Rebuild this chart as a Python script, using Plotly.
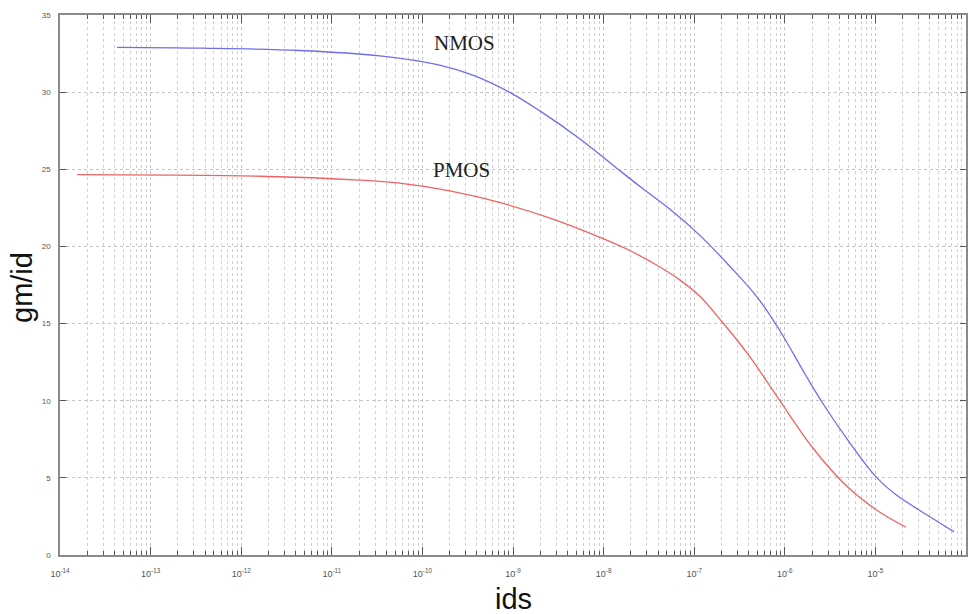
import numpy as np
import plotly.graph_objects as go

# Data
nmos_ids = [4.25e-14, 3.5e-13, 4.4e-12, 3.4e-11, 1.55e-10, 3.6e-10, 9.1e-10, 1.96e-9,
            5.4e-9, 1.25e-8, 2.5e-8, 5.7e-8, 1.14e-7, 2.44e-7, 4.97e-7, 8.7e-7,
            1.72e-6, 2.58e-6, 4.75e-6, 1.02e-5, 1.69e-5, 4.2e-5, 7.4e-5]
nmos_gmid = [32.9, 32.85, 32.7, 32.35, 31.75, 31.1, 30.0, 28.8,
             27.0, 25.3, 23.9, 22.3, 20.75, 18.75, 16.7, 14.6,
             11.6, 9.9, 7.6, 5.05, 3.9, 2.4, 1.5]

pmos_ids = [1.54e-14, 1.6e-12, 2.03e-11, 5.6e-11, 2.0e-10, 7.1e-10, 2.52e-9, 9.0e-9,
            1.92e-8, 4.1e-8, 6.85e-8, 1.14e-7, 2.04e-7, 4.05e-7, 8.7e-7, 2.0e-6,
            4.75e-6, 1.1e-5, 2.18e-5]
pmos_gmid = [24.65, 24.55, 24.3, 24.1, 23.6, 22.85, 21.85, 20.6,
             19.75, 18.7, 17.85, 16.8, 15.1, 12.9, 10.05, 7.0,
             4.5, 2.8, 1.8]

x_exponents = list(range(-14, -3))
x_tickvals = [10.0 ** e for e in x_exponents]
x_ticktext = [f"10<sup>{e}</sup>" for e in x_exponents]
x_minor = [k * 10.0 ** e for e in x_exponents[:-1] for k in range(2, 10)]
y_tickvals = [0, 5, 10, 15, 20, 25, 30, 35]

labels = ["NMOS", "PMOS"]
label_pos = [(10 ** -9.535, 33.2), (10 ** -9.57, 24.95)]

fig = go.Figure()
fig.add_trace(go.Scatter(x=nmos_ids, y=nmos_gmid, mode="lines", name="NMOS",
                         line=dict(color="#6e6eea", width=1.3, shape="spline", smoothing=1.0)))
fig.add_trace(go.Scatter(x=pmos_ids, y=pmos_gmid, mode="lines", name="PMOS",
                         line=dict(color="#ee6464", width=1.3, shape="spline", smoothing=1.0)))

for txt, (lx, ly) in zip(labels, label_pos):
    fig.add_annotation(x=np.log10(lx), y=ly, xref="x", yref="y", text=txt, showarrow=False,
                       font=dict(family="Liberation Serif, Times New Roman, serif", size=21, color="#222222"))

fig.add_annotation(x=0.5, y=-0.0, xref="paper", yref="paper", yshift=-44, text="ids",
                   showarrow=False, yanchor="middle",
                   font=dict(family="Liberation Sans, Arial, sans-serif", size=29, color="#111111"))
fig.add_annotation(x=0, y=(555 - 288) / 540, xref="paper", yref="paper", xshift=-38, text="gm/id",
                   showarrow=False, textangle=-90, xanchor="center",
                   font=dict(family="Liberation Sans, Arial, sans-serif", size=29, color="#111111"))

axis_common = dict(showline=True, linecolor="#8a8a8a", linewidth=1.5, mirror="ticks",
                   ticks="inside", tickcolor="#555555",
                   gridcolor="#c4c4c4", griddash="dot", gridwidth=1, zeroline=False)

fig.update_xaxes(type="log", range=[-14, -4], tickmode="array", tickvals=x_tickvals,
                 ticktext=x_ticktext, ticklen=8, tickwidth=1, showgrid=True,
                 ticklabelstandoff=9,
                 tickfont=dict(family="Liberation Sans, Arial, sans-serif", size=9, color="#555555"),
                 minor=dict(tickvals=x_minor, ticks="inside", ticklen=4, tickcolor="#555555",
                            showgrid=True, gridcolor="#d0d0d0", griddash="dot", gridwidth=1),
                 **axis_common)
fig.update_yaxes(range=[0, 35], tickmode="array", tickvals=y_tickvals, ticklen=6,
                 showgrid=True, ticklabelstandoff=6,
                 tickfont=dict(family="Liberation Sans, Arial, sans-serif", size=8, color="#555555"),
                 **axis_common)

fig.update_layout(width=974, height=614, margin=dict(l=60, r=6, t=15, b=59),
                  paper_bgcolor="white", plot_bgcolor="white", showlegend=False)

fig.write_html("out.html")
